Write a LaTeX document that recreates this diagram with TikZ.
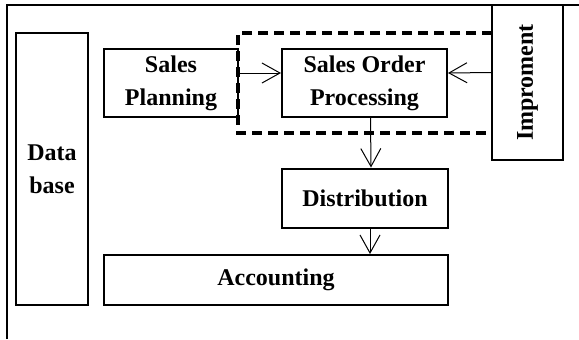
\documentclass[tikz,border=0pt]{standalone}
\usepackage{fontspec}
\setmainfont{Liberation Serif}
\usetikzlibrary{arrows.meta, positioning}

\begin{document}
\begin{tikzpicture}[
    x=0.5pt, y=-0.5pt,
    font=\fontsize{12}{16.5}\selectfont\bfseries,
    block/.style={draw, line width=1pt, align=center, inner sep=0pt},
    flow/.style={-{Straight Barb[length=9pt, width=10pt]}, line width=0.5pt},
    group/.style={draw, line width=1.6pt, dash pattern=on 5pt off 3pt}
]
\useasboundingbox (0,0) rectangle (579,339);

% --- Frame ---
\draw[line width=1pt] (7,339) -- (7,5) -- (579,5);

% --- Blocks ---
\node[block, minimum width=36pt, minimum height=136pt] (db) at (52,169) {Data\\base};
\node[block, minimum width=67pt, minimum height=34pt] (plan) at (171,83) {Sales\\Planning};
\node[block, minimum width=82.5pt, minimum height=34pt] (sop) at (364.5,83) {Sales Order\\Processing};
\node[block, minimum width=83pt, minimum height=29.5pt] (dist) at (365,198) {Distribution};
\node[block, minimum width=172pt, minimum height=25pt] (acct) at (276,280) {Accounting};
\node[block, rotate=90, minimum width=77.5pt, minimum height=35.5pt] (imp) at (527.5,82.5) {Improment};

% --- Dashed group round order processing ---
\draw[group] (492,33) -- (238,33) -- (238,133) -- (492,133);

% --- Flows ---
\draw[flow] ([yshift=5pt]plan.east) -- ([yshift=5pt]sop.west);
\draw[flow] ([yshift=5pt]imp.north) -- ([yshift=5pt]sop.east);
\draw[flow] ([xshift=3pt]sop.south) -- ([xshift=3pt]dist.north);
\draw[flow] ([xshift=2.5pt]dist.south) -- ([xshift=2.5pt]dist.south |- acct.north);

\end{tikzpicture}
\end{document}
